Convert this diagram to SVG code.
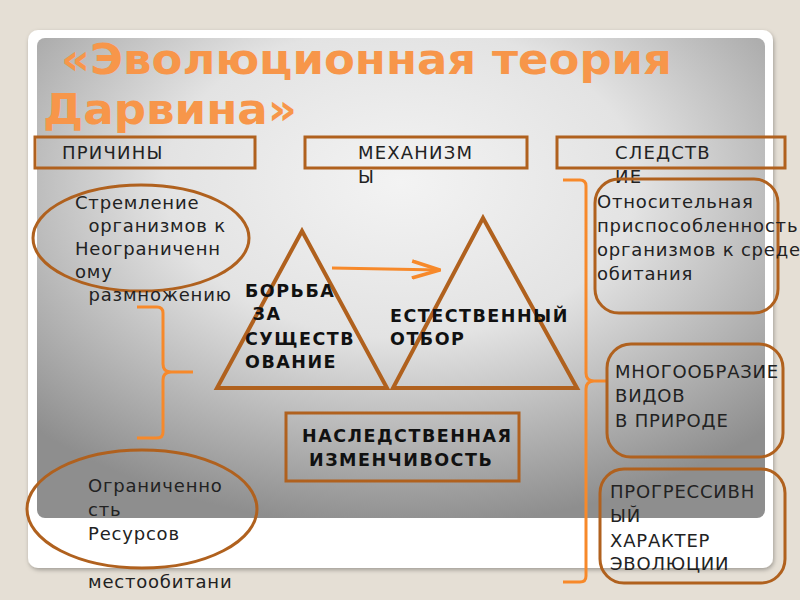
<svg xmlns="http://www.w3.org/2000/svg" width="800" height="600" viewBox="0 0 800 600">
<defs>
<radialGradient id="pg" cx="0.5" cy="0.3" r="0.72">
<stop offset="0" stop-color="#f3f3f3"/>
<stop offset="0.45" stop-color="#e3e3e3"/>
<stop offset="1" stop-color="#8e8e8e"/>
</radialGradient>
<filter id="sh" x="-5%" y="-5%" width="110%" height="110%">
<feDropShadow dx="1" dy="2" stdDeviation="2" flood-color="#000" flood-opacity="0.3"/>
</filter>
<marker id="ah" viewBox="0 0 30 20" refX="29" refY="10" markerWidth="30" markerHeight="20" markerUnits="userSpaceOnUse" orient="auto">
<path d="M1,1.5 L29,10 L1,18.5" fill="none" stroke="#f7892a" stroke-width="3.5" stroke-linejoin="miter"/>
</marker>
</defs>
<style>
.br{fill:none;stroke:#b0611e;stroke-width:3}
.tri{fill:none;stroke:#b0611e;stroke-width:4;stroke-linejoin:miter}
.or{fill:none;stroke:#f7892a;stroke-width:3;stroke-linejoin:round}
.t{font-family:"DejaVu Sans","Noto Sans",sans-serif;font-size:18px;fill:#222;letter-spacing:0.8px}
.h{font-family:"DejaVu Sans","Noto Sans",sans-serif;font-size:18px;fill:#222;letter-spacing:1.2px}
.b{font-family:"DejaVu Sans","Noto Sans",sans-serif;font-size:17.5px;font-weight:bold;fill:#111;letter-spacing:1.5px}
.title{font-family:"DejaVu Sans","Noto Sans",sans-serif;font-size:42px;font-weight:bold;fill:#f7964a}
</style>
<rect x="0" y="0" width="800" height="600" fill="#e5dfd5"/>
<rect x="28" y="30" width="745" height="538" rx="10" fill="#ffffff" filter="url(#sh)"/>
<rect x="37" y="38" width="728" height="480" rx="8" fill="url(#pg)"/>

<g id="title">
<text class="title" x="61" y="74" textLength="611" lengthAdjust="spacingAndGlyphs">«Эволюционная теория</text>
<text class="title" x="43" y="124" textLength="254" lengthAdjust="spacingAndGlyphs">Дарвина»</text>
</g>

<g id="hdr-causes">
<rect class="br" x="35" y="137" width="220" height="31"/>
<text class="h" x="62" y="159">ПРИЧИНЫ</text>
</g>
<g id="hdr-mechanisms">
<rect class="br" x="305" y="137" width="222" height="31"/>
<text class="h" x="358" y="159">МЕХАНИЗМ</text>
<text class="h" x="358" y="183">Ы</text>
</g>
<g id="hdr-consequences">
<rect class="br" x="557" y="137" width="228" height="31"/>
<text class="h" x="615" y="159">СЛЕДСТВ</text>
<text class="h" x="615" y="183">ИЕ</text>
</g>

<g id="connectors">
<path class="or" d="M137,307 H157 Q163,307 163,313 V364 Q163,372 171,372 H193 M171,372 Q163,372 163,380 V432 Q163,438 157,438 H137"/>
<path class="or" d="M563,180 H580 Q586,180 586,186 V373 Q586,381 594,381 H607 M594,381 Q586,381 586,389 V576 Q586,582 580,582 H563"/>
<path class="or" d="M332,268 L440,270" marker-end="url(#ah)"/>
</g>

<g id="cause1">
<ellipse class="br" cx="141" cy="238" rx="108" ry="53"/>
<text class="t"><tspan x="75" y="209">Стремление</tspan><tspan x="82" y="232"> организмов к</tspan><tspan x="75" y="255">Неограниченн</tspan><tspan x="75" y="278">ому</tspan><tspan x="82" y="301"> размножению</tspan></text>
</g>

<g id="cause2">
<ellipse class="br" cx="142" cy="509" rx="115" ry="59"/>
<text class="t"><tspan x="88" y="492">Ограниченно</tspan><tspan x="88" y="516">сть</tspan><tspan x="88" y="540">Ресурсов</tspan><tspan x="88" y="588">местообитани</tspan></text>
</g>

<g id="struggle">
<polygon class="tri" points="302,231 217,388 387,388"/>
<text class="b"><tspan x="245" y="297">БОРЬБА</tspan><tspan x="245" y="320"> ЗА</tspan><tspan x="245" y="345">СУЩЕСТВ</tspan><tspan x="245" y="368">ОВАНИЕ</tspan></text>
</g>

<g id="selection">
<polygon class="tri" points="483,218 393,388 577,388"/>
<text class="b"><tspan x="390" y="322">ЕСТЕСТВЕННЫЙ</tspan><tspan x="390" y="345">ОТБОР</tspan></text>
</g>

<g id="heredity">
<rect class="br" x="286" y="413" width="233" height="68"/>
<text class="b"><tspan x="302" y="442">НАСЛЕДСТВЕННАЯ</tspan><tspan x="309" y="466">ИЗМЕНЧИВОСТЬ</tspan></text>
</g>

<g id="cons1">
<rect class="br" x="595" y="179" width="183" height="134" rx="24"/>
<text class="t"><tspan x="597" y="208">Относительная</tspan><tspan x="597" y="232">приспособленность</tspan><tspan x="597" y="256">организмов к среде</tspan><tspan x="597" y="280">обитания</tspan></text>
</g>

<g id="cons2">
<rect class="br" x="607" y="344" width="176" height="113" rx="24"/>
<text class="t"><tspan x="615" y="378">МНОГООБРАЗИЕ</tspan><tspan x="615" y="402">ВИДОВ</tspan><tspan x="615" y="427">В ПРИРОДЕ</tspan></text>
</g>

<g id="cons3">
<rect class="br" x="600" y="469" width="185" height="114" rx="24"/>
<text class="t"><tspan x="610" y="498">ПРОГРЕССИВН</tspan><tspan x="610" y="522">ЫЙ</tspan><tspan x="610" y="547">ХАРАКТЕР</tspan><tspan x="610" y="570">ЭВОЛЮЦИИ</tspan></text>
</g>
</svg>
